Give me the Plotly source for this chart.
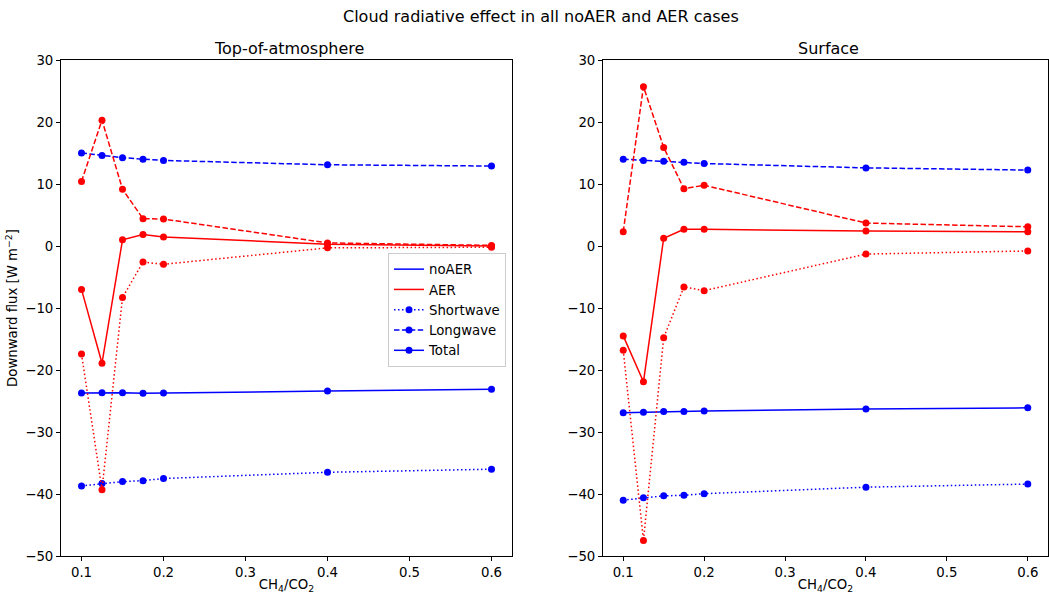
import plotly.graph_objects as go

ratio = [0.1, 0.125, 0.15, 0.175, 0.2, 0.4, 0.6]

# Top-of-atmosphere
toa_noaer_sw = [-38.7, -38.3, -38.0, -37.85, -37.5, -36.5, -36.0]
toa_noaer_lw = [15.0, 14.6, 14.25, 14.0, 13.8, 13.1, 12.9]
toa_noaer_tot = [-23.7, -23.65, -23.65, -23.75, -23.7, -23.4, -23.1]
toa_aer_sw = [-17.4, -39.3, -8.3, -2.6, -2.95, -0.3, -0.2]
toa_aer_lw = [10.4, 20.3, 9.15, 4.4, 4.35, 0.5, 0.1]
toa_aer_tot = [-7.0, -18.9, 1.0, 1.85, 1.45, 0.3, 0.0]

# Surface
srf_noaer_sw = [-41.0, -40.6, -40.3, -40.2, -39.95, -38.9, -38.4]
srf_noaer_lw = [14.0, 13.8, 13.65, 13.5, 13.3, 12.6, 12.25]
srf_noaer_tot = [-26.9, -26.8, -26.7, -26.7, -26.6, -26.3, -26.1]
srf_aer_sw = [-16.8, -47.5, -14.8, -6.6, -7.2, -1.3, -0.8]
srf_aer_lw = [2.3, 25.7, 15.9, 9.25, 9.8, 3.7, 3.1]
srf_aer_tot = [-14.5, -21.9, 1.25, 2.7, 2.7, 2.4, 2.3]

BLUE = "#0000ff"
RED = "#ff0000"
DOT = "1.5px,2.5px"
DASH = "5.5px,2.4px"
FONT = "DejaVu Sans"
TS = 13.3

fig = go.Figure()

def add(x, y, color, dash, xa, ya):
    fig.add_trace(go.Scatter(
        x=x, y=y, mode="lines+markers", xaxis=xa, yaxis=ya,
        line=dict(color=color, width=1.5, dash=dash),
        marker=dict(color=color, size=7), showlegend=False))

for xa, ya, sets in [
    ("x", "y", [(toa_noaer_sw, BLUE, DOT), (toa_noaer_lw, BLUE, DASH), (toa_noaer_tot, BLUE, "solid"),
                (toa_aer_sw, RED, DOT), (toa_aer_lw, RED, DASH), (toa_aer_tot, RED, "solid")]),
    ("x2", "y2", [(srf_noaer_sw, BLUE, DOT), (srf_noaer_lw, BLUE, DASH), (srf_noaer_tot, BLUE, "solid"),
                  (srf_aer_sw, RED, DOT), (srf_aer_lw, RED, DASH), (srf_aer_tot, RED, "solid")]),
]:
    for y, c, d in sets:
        add(ratio, y, c, d, xa, ya)

# legend entries
leg = [("noAER", BLUE, "solid", "lines"), ("AER", RED, "solid", "lines"),
       ("Shortwave", BLUE, DOT, "lines+markers"), ("Longwave", BLUE, DASH, "lines+markers"),
       ("Total", BLUE, "solid", "lines+markers")]
for name, c, d, m in leg:
    fig.add_trace(go.Scatter(x=[None], y=[None], mode=m, name=name,
                             line=dict(color=c, width=1.5, dash=d),
                             marker=dict(color=c, size=7), showlegend=True))

axis_common = dict(showline=True, linecolor="black", linewidth=1, mirror=True,
                   ticks="outside", ticklen=4, tickcolor="black", showgrid=False,
                   zeroline=False, automargin=False,
                   tickfont=dict(size=TS, color="black", family=FONT))

L, R, T, B = 61, 1, 60, 42
PW = 1049 - L - R
PH = 598 - T - B

def px_x(p):
    return (p - L) / PW

def px_y(p):
    return (598 - B - p) / PH

fig.update_layout(
    width=1049, height=598,
    margin=dict(l=L, r=R, t=T, b=B, autoexpand=False),
    plot_bgcolor="white", paper_bgcolor="white",
    font=dict(family=FONT, color="black"),
    xaxis=dict(domain=[px_x(61), px_x(512)], range=[0.075, 0.625], dtick=0.1, tick0=0.1, tickformat=".1f",
               title=dict(text="CH<sub>4</sub>/CO<sub>2</sub>", font=dict(size=TS), standoff=0), anchor="y", **axis_common),
    yaxis=dict(domain=[0, 1], range=[-50, 30], dtick=10,
               title=dict(text="Downward flux [W m<sup>−2</sup>]", font=dict(size=TS), standoff=4), anchor="x", **axis_common),
    xaxis2=dict(domain=[px_x(603), 1], range=[0.075, 0.625], dtick=0.1, tick0=0.1, tickformat=".1f",
                title=dict(text="CH<sub>4</sub>/CO<sub>2</sub>", font=dict(size=TS), standoff=0), anchor="y2", **axis_common),
    yaxis2=dict(domain=[0, 1], range=[-50, 30], dtick=10, anchor="x2", **axis_common),
    legend=dict(x=px_x(506), y=px_y(253), xanchor="right", yanchor="top",
                bgcolor="white", bordercolor="#cccccc", borderwidth=1,
                font=dict(size=TS, family=FONT), tracegroupgap=0, itemwidth=30),
    annotations=[
        dict(text="Cloud radiative effect in all noAER and AER cases", x=px_x(541.3), y=px_y(16),
             xref="paper", yref="paper", showarrow=False, font=dict(size=16),
             xanchor="center", yanchor="middle"),
        dict(text="Top-of-atmosphere", x=px_x(289), y=px_y(49),
             xref="paper", yref="paper", showarrow=False, font=dict(size=16),
             xanchor="center", yanchor="middle"),
        dict(text="Surface", x=px_x(828), y=px_y(49),
             xref="paper", yref="paper", showarrow=False, font=dict(size=16),
             xanchor="center", yanchor="middle"),
    ],
)

fig.write_html("out.html", config={"displayModeBar": False},
               post_script="document.body.style.margin='0';document.body.style.overflow='hidden';")
